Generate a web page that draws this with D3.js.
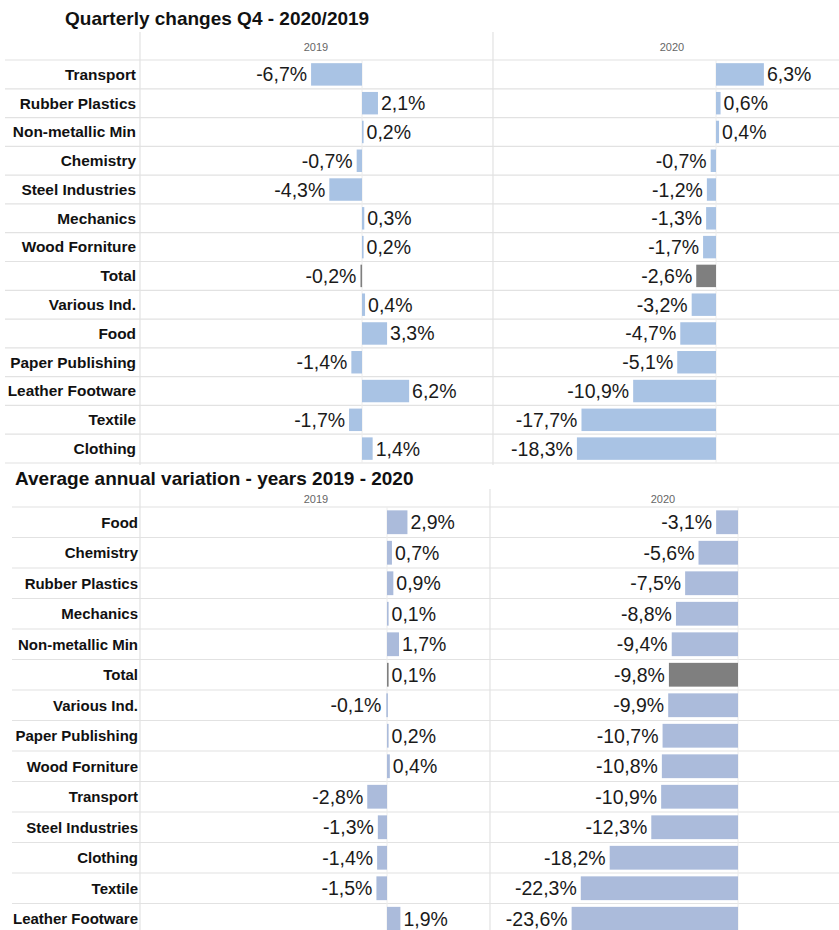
<!DOCTYPE html>
<html>
<head>
<meta charset="utf-8">
<script src="https://cdn.jsdelivr.net/npm/d3@7"></script>
<style>
  body { margin: 0; background: #fff; }
  svg { display: block; font-family: "Liberation Sans", Arial, sans-serif; }
</style>
</head>
<body>
<svg id="chart"></svg>
<script>
const width = 839;
const height = 930;

// quarterly changes Q4
const q4Cats = ["Transport", "Rubber Plastics", "Non-metallic Min", "Chemistry", "Steel Industries",
  "Mechanics", "Wood Forniture", "Total", "Various Ind.", "Food", "Paper Publishing",
  "Leather Footware", "Textile", "Clothing"];
const q4_2019 = [-6.7, 2.1, 0.2, -0.7, -4.3, 0.3, 0.2, -0.2, 0.4, 3.3, -1.4, 6.2, -1.7, 1.4];
const q4_2020 = [6.3, 0.6, 0.4, -0.7, -1.2, -1.3, -1.7, -2.6, -3.2, -4.7, -5.1, -10.9, -17.7, -18.3];

// average annual variation
const avgCats = ["Food", "Chemistry", "Rubber Plastics", "Mechanics", "Non-metallic Min", "Total",
  "Various Ind.", "Paper Publishing", "Wood Forniture", "Transport", "Steel Industries",
  "Clothing", "Textile", "Leather Footware"];
const avg_2019 = [2.9, 0.7, 0.9, 0.1, 1.7, 0.1, -0.1, 0.2, 0.4, -2.8, -1.3, -1.4, -1.5, 1.9];
const avg_2020 = [-3.1, -5.6, -7.5, -8.8, -9.4, -9.8, -9.9, -10.7, -10.8, -10.9, -12.3, -18.2, -22.3, -23.6];

const years = ["2019", "2020"];

let svg = d3.select('#chart')
        .attr('width', width)
        .attr('height', height);

// comma decimals, plain hyphen for minus
const fmt = v => (v < 0 ? "-" : "") + Math.abs(v).toFixed(1).replace(".", ",") + "%";

function drawPanel(opt) {
  let g = svg.append("g");
  let y = d3.scaleBand().domain(opt.cats).range([opt.top, opt.bottom]).paddingInner(0.22).paddingOuter(0.11);
  let gap = y.step() * 0.11;

  // title
  g.append("text")
    .attr("x", opt.titleX).attr("y", opt.titleY)
    .style("font-weight", "bold").style("font-size", "19px").style("fill", "#111")
    .text(opt.title);

  // row lines
  let edges = opt.cats.map(c => y(c) - gap);
  edges.push(opt.bottom);
  g.selectAll(".rowline").data(edges).enter().append("line")
    .attr("x1", opt.lineX).attr("x2", width)
    .attr("y1", d => d).attr("y2", d => d)
    .style("stroke", "#e2e2e2").style("stroke-width", 1.2);

  // column dividers
  [140, opt.split].forEach(x => {
    g.append("line")
      .attr("x1", x).attr("x2", x)
      .attr("y1", opt.headTop).attr("y2", opt.bottom + 2)
      .style("stroke", "#e2e2e2").style("stroke-width", 1.2);
  });

  // category labels
  g.selectAll(".cat").data(opt.cats).enter().append("text")
    .attr("x", opt.catX)
    .attr("y", d => y(d) + y.bandwidth() / 2)
    .attr("dy", "0.35em")
    .attr("text-anchor", "end")
    .style("font-weight", "bold").style("font-size", opt.catSize).style("fill", "#111")
    .text(d => d);

  opt.series.forEach((vals, k) => {
    let x = d3.scaleLinear().domain([-10, 10]).range([opt.zero[k] - 10 * opt.pxPer, opt.zero[k] + 10 * opt.pxPer]);

    g.append("text")
      .attr("x", opt.headX[k]).attr("y", opt.headY)
      .attr("text-anchor", "middle")
      .style("font-size", "11px").style("fill", "#666")
      .text(years[k]);

    // zero line
    g.append("line")
      .attr("x1", x(0)).attr("x2", x(0))
      .attr("y1", opt.top).attr("y2", opt.bottom)
      .style("stroke", "#ececec").style("stroke-width", 1);

    let data = opt.cats.map((c, i) => ({cat: c, v: vals[i]}));

    g.selectAll(".bar" + k).data(data).enter().append("rect")
      .attr("x", d => Math.min(x(0), x(d.v)))
      .attr("y", d => y(d.cat))
      .attr("width", d => Math.max(1.6, Math.abs(x(d.v) - x(0))))
      .attr("height", y.bandwidth())
      .style("fill", d => d.cat === "Total" ? "#7f7f7f" : opt.color);

    g.selectAll(".val" + k).data(data).enter().append("text")
      .attr("x", d => d.v < 0 ? Math.min(x(d.v), x(0) - 1.6) - 4 : Math.max(x(d.v), x(0) + 1.6) + 3)
      .attr("y", d => y(d.cat) + y.bandwidth() / 2)
      .attr("dy", "0.36em")
      .attr("text-anchor", d => d.v < 0 ? "end" : "start")
      .style("font-size", "19.5px").style("fill", "#1a1a1a")
      .text(d => fmt(d.v));
  });
}

drawPanel({
  title: "Quarterly changes Q4 - 2020/2019", titleX: 65, titleY: 25,
  cats: q4Cats, series: [q4_2019, q4_2020],
  top: 60, bottom: 463, headTop: 32, headY: 51, headX: [316, 672],
  split: 493, zero: [362, 716], pxPer: 7.6,
  lineX: 5, catX: 136, catSize: "15.4px", color: "#a9c3e4"
});

drawPanel({
  title: "Average annual variation - years 2019 - 2020", titleX: 15, titleY: 485,
  cats: avgCats, series: [avg_2019, avg_2020],
  top: 507, bottom: 934, headTop: 489, headY: 503, headX: [316, 663],
  split: 490, zero: [387, 738], pxPer: 7.05,
  lineX: 12, catX: 138, catSize: "15px", color: "#abbbdb"
});
</script>
</body>
</html>
